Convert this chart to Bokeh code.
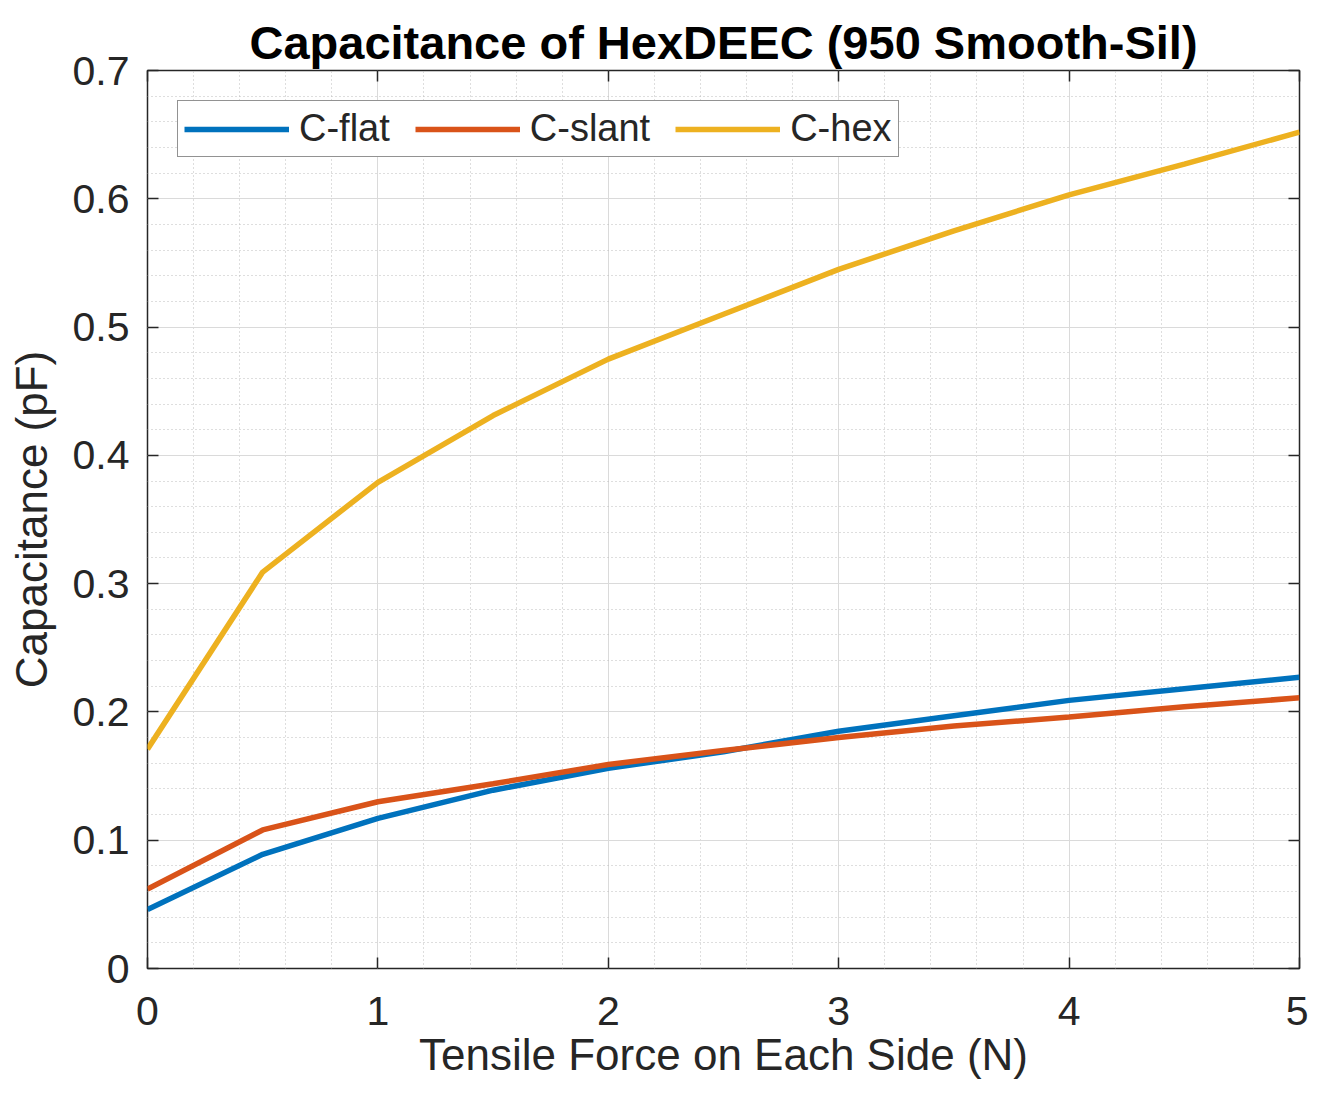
import numpy as np
from bokeh.plotting import figure
from bokeh.models import Range1d, LinearAxis, FixedTicker
from bokeh.embed import file_html
from bokeh.resources import INLINE

# ---- data ----
force = [0, 0.5, 1, 1.5, 2, 2.5, 3, 3.5, 4, 4.5, 5]
c_flat = [0.046, 0.089, 0.117, 0.139, 0.156, 0.169, 0.185, 0.197, 0.209, 0.218, 0.227]
c_slant = [0.062, 0.108, 0.130, 0.144, 0.159, 0.170, 0.180, 0.189, 0.196, 0.204, 0.211]
c_hex = [0.171, 0.309, 0.379, 0.431, 0.475, 0.510, 0.545, 0.575, 0.603, 0.627, 0.652]

x_ticks = [0, 1, 2, 3, 4, 5]
x_tick_labels = ["0", "1", "2", "3", "4", "5"]
y_ticks = [0, 0.1, 0.2, 0.3, 0.4, 0.5, 0.6, 0.7]
y_tick_labels = ["0", "0.1", "0.2", "0.3", "0.4", "0.5", "0.6", "0.7"]

title_text = "Capacitance of HexDEEC (950 Smooth-Sil)"
x_label = "Tensile Force on Each Side (N)"
y_label = "Capacitance (pF)"

FONT = "Liberation Sans"
AX_COLOR = "#262626"

x_minor = [round(v, 2) for v in np.arange(0, 5.001, 0.2)]
y_minor = [round(v, 3) for v in np.arange(0, 0.7001, 0.02)]

p = figure(width=1308, height=1082,
           x_range=Range1d(0, 5), y_range=Range1d(0, 0.7),
           output_backend="svg", toolbar_location=None,
           min_border_left=147, min_border_right=9,
           min_border_top=70, min_border_bottom=114)

p.title.text = title_text
p.title.text_font = FONT
p.title.text_font_size = "47px"
p.title.text_font_style = "bold"
p.title.text_color = "black"
p.title.align = "center"
p.title.standoff = 3

p.outline_line_color = AX_COLOR
p.outline_line_width = 1.5
p.background_fill_color = "white"
p.border_fill_color = "white"

xt = FixedTicker(ticks=x_ticks, minor_ticks=x_minor)
yt = FixedTicker(ticks=y_ticks, minor_ticks=y_minor)

for ax in p.xaxis:
    ax.ticker = xt
    ax.major_label_overrides = dict(zip(x_ticks, x_tick_labels))
for ax in p.yaxis:
    ax.ticker = yt
    ax.major_label_overrides = dict(zip(y_ticks, y_tick_labels))

def style_axis(ax):
    ax.axis_line_color = None
    ax.major_tick_in = 11
    ax.major_tick_out = 0
    ax.major_tick_line_color = AX_COLOR
    ax.major_tick_line_width = 1.5
    ax.minor_tick_in = 0
    ax.minor_tick_out = 0
    ax.major_label_text_font = FONT
    ax.major_label_text_font_size = "41px"
    ax.major_label_text_color = AX_COLOR
    ax.axis_label_text_font = FONT
    ax.axis_label_text_font_size = "44px"
    ax.axis_label_text_font_style = "normal"
    ax.axis_label_text_color = AX_COLOR

style_axis(p.xaxis[0])
style_axis(p.yaxis[0])
p.xaxis[0].axis_label = x_label
p.yaxis[0].axis_label = y_label
p.xaxis[0].major_label_standoff = 28
p.xaxis[0].axis_label_standoff = 2
p.yaxis[0].major_label_standoff = 18
p.yaxis[0].axis_label_standoff = 14

# box axes (ticks only) on top and right
top_ax = LinearAxis(ticker=xt)
right_ax = LinearAxis(ticker=yt)
for ax in (top_ax, right_ax):
    style_axis(ax)
    ax.major_label_text_font_size = "0px"
    ax.major_label_standoff = 0
    ax.major_label_text_alpha = 0
p.add_layout(top_ax, "above")
p.add_layout(right_ax, "right")

# grids
for g in (p.xgrid[0], p.ygrid[0]):
    g.grid_line_color = "#dadada"
    g.grid_line_width = 1
    g.minor_grid_line_color = "#bdbdbd"
    g.minor_grid_line_dash = "1 3"
    g.minor_grid_line_width = 1
p.xgrid[0].ticker = xt
p.ygrid[0].ticker = yt

p.line(force, c_flat, line_width=5.5, color="#0072BD", legend_label="C-flat")
p.line(force, c_slant, line_width=5.5, color="#D95319", legend_label="C-slant")
p.line(force, c_hex, line_width=5.5, color="#EDB120", legend_label="C-hex")

lg = p.legend[0]
lg.orientation = "horizontal"
lg.location = "top_left"
lg.margin = 30
lg.padding = 6
lg.spacing = 25
lg.glyph_width = 105
lg.glyph_height = 40
lg.label_standoff = 10
lg.label_text_font = FONT
lg.label_text_font_size = "38px"
lg.label_text_color = AX_COLOR
lg.border_line_color = AX_COLOR
lg.border_line_width = 1.5
lg.background_fill_color = "white"
lg.background_fill_alpha = 1.0

open("out.html", "w").write(file_html(p, INLINE))
